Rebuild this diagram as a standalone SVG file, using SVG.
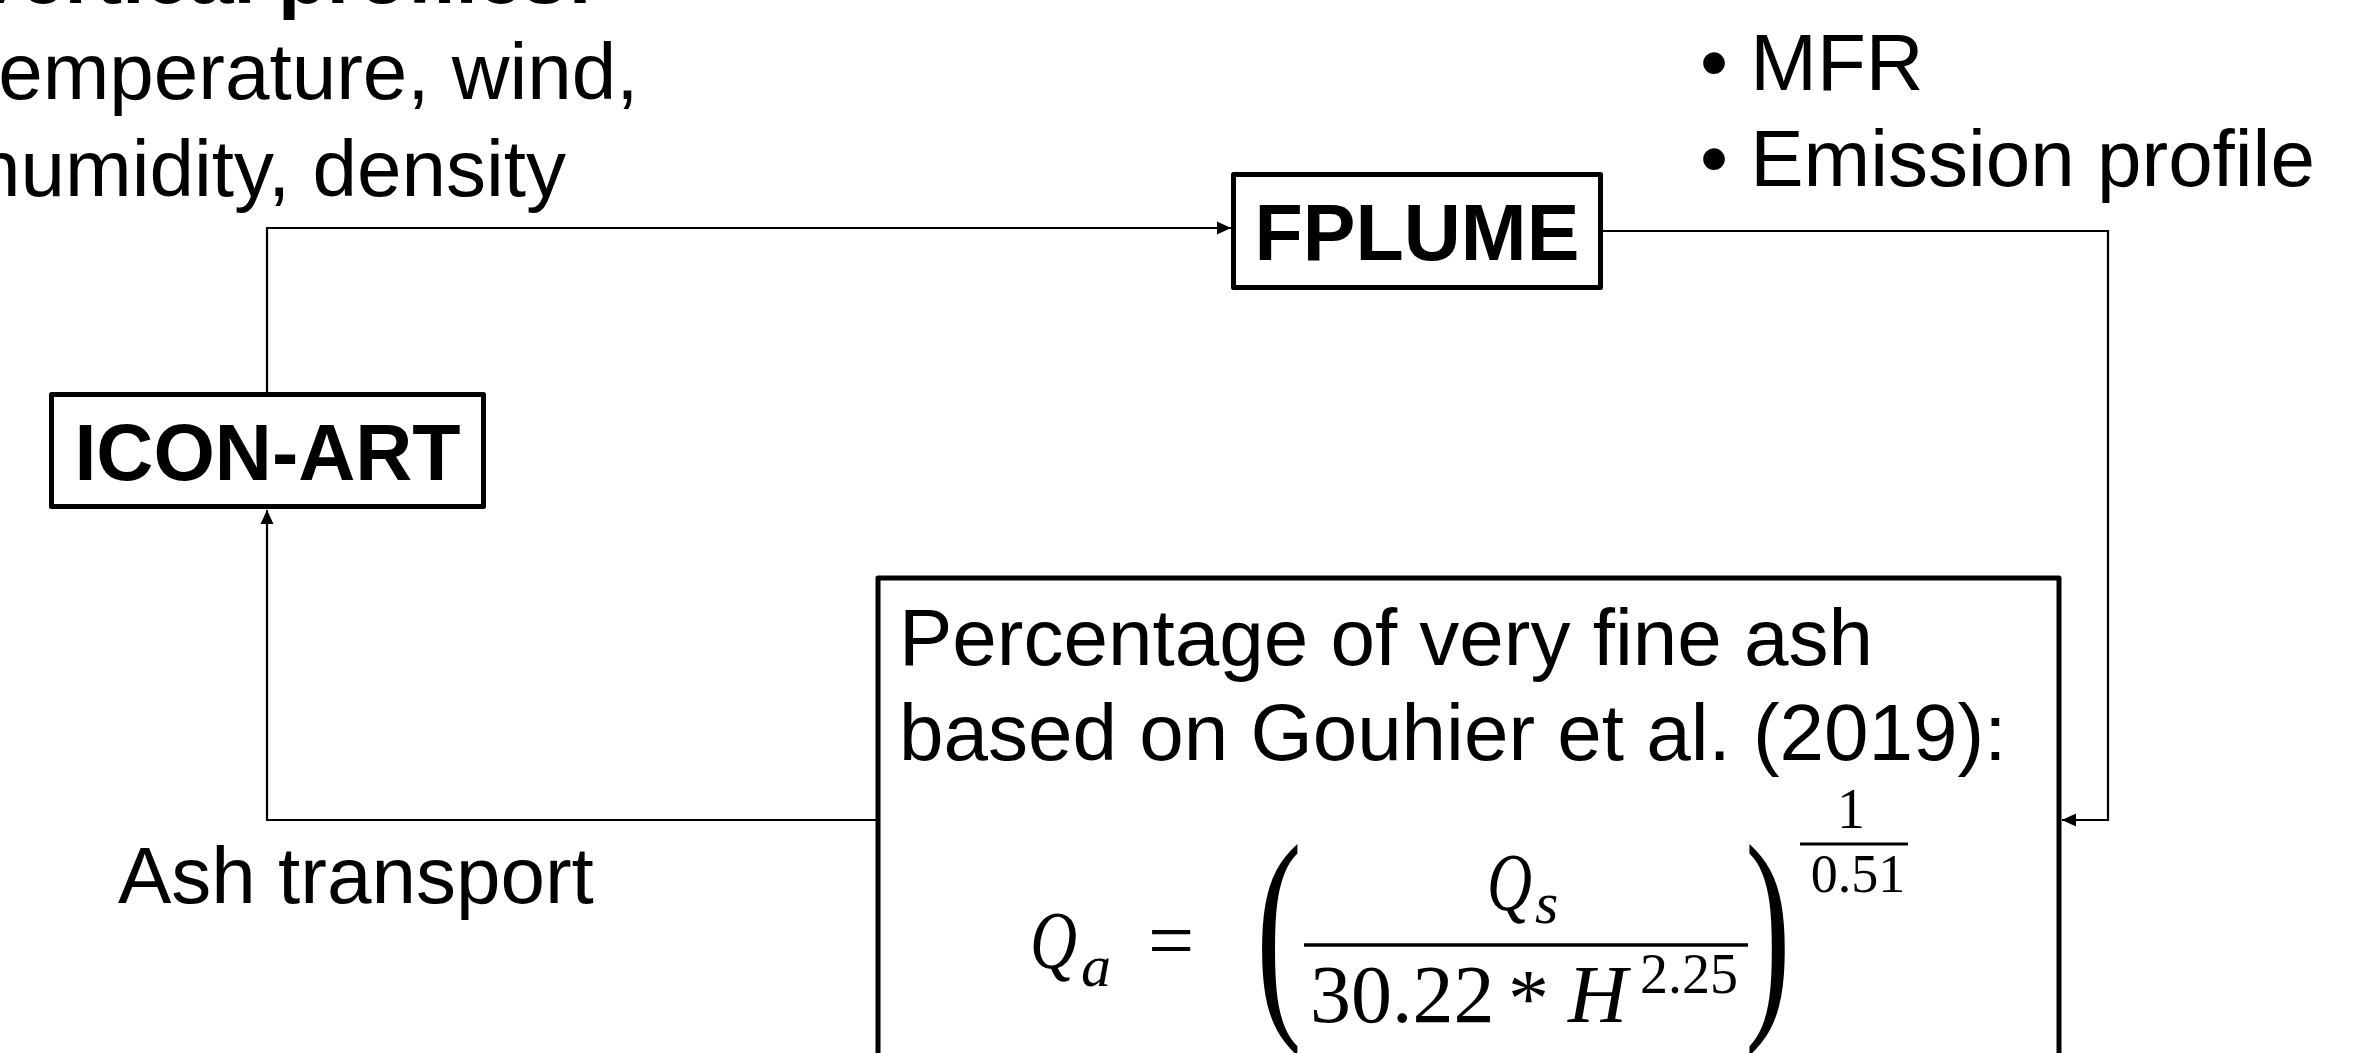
<svg xmlns="http://www.w3.org/2000/svg" width="2369" height="1053" viewBox="0 0 2369 1053">
<style>
.box{fill:#fff;stroke:#000;stroke-width:5;stroke-linejoin:round}
.conn{fill:none;stroke:#000;stroke-width:2.2}
.t{font-family:"Liberation Sans",Arial,sans-serif;font-size:80px;fill:#000}
.b{font-family:"Liberation Sans",Arial,sans-serif;font-size:79px;font-weight:bold;fill:#000}
.m{font-family:"Liberation Serif","Times New Roman",serif;fill:#000}
.i{font-style:italic}
</style>
<defs>
<marker id="arr" markerUnits="userSpaceOnUse" markerWidth="16" markerHeight="16" viewBox="0 0 16 16" refX="15" refY="8" orient="auto">
<path d="M1,1.5 L15,8 L1,14.5 Z" fill="#000"/>
</marker>
</defs>
<rect width="2369" height="1053" fill="#fff"/>
<g id="connectors">
<polyline class="conn" points="267,392 267,228 1231,228" marker-end="url(#arr)"/>
<polyline class="conn" points="1603,231 2108,231 2108,820 2062,820" marker-end="url(#arr)"/>
<polyline class="conn" points="878,820 267,820 267,510" marker-end="url(#arr)"/>
</g>
<g id="icon-art">
<rect class="box" x="51.5" y="394.5" width="432" height="112"/>
<text class="b" x="267.5" y="480" text-anchor="middle">ICON-ART</text>
</g>
<g id="fplume">
<rect class="box" x="1233.5" y="174.5" width="367" height="113"/>
<text class="b" x="1417" y="260" text-anchor="middle">FPLUME</text>
</g>
<g id="fine-ash">
<rect class="box" x="878" y="578" width="1181" height="500"/>
<text class="t" x="899" y="665">Percentage of very fine ash</text>
<text class="t" x="899" y="760">based on Gouhier et al. (2019):</text>
<g id="formula">
<text class="m i" x="1030" y="968" font-size="82"><tspan textLength="47" lengthAdjust="spacingAndGlyphs">Q</tspan><tspan x="1081" dy="18" font-size="60">a</tspan></text>
<text class="m" x="1148" y="968" font-size="82">=</text>
<text class="m" font-size="110" transform="translate(1256,1006) scale(1.25,2.12)">(</text>
<text class="m i" x="1487" y="910" font-size="82"><tspan textLength="45" lengthAdjust="spacingAndGlyphs">Q</tspan><tspan x="1535" dy="13" font-size="60">s</tspan></text>
<line x1="1304" y1="945" x2="1748" y2="945" stroke="#000" stroke-width="3.5"/>
<text class="m" x="1310" y="1022" font-size="82">30.22</text>
<text class="m" x="1508" y="1026" font-size="82">*</text>
<text class="m i" x="1568" y="1022" font-size="82">H</text>
<text class="m" x="1640" y="993" font-size="56">2.25</text>
<text class="m" font-size="110" transform="translate(1745,1006) scale(1.25,2.12)">)</text>
<text class="m" x="1851" y="828" font-size="56" text-anchor="middle">1</text>
<line x1="1800" y1="844" x2="1908" y2="844" stroke="#000" stroke-width="3"/>
<text class="m" x="1858" y="892" font-size="54" text-anchor="middle">0.51</text>
</g>
</g>
<g id="labels">
<text class="t" x="-29" y="3" font-weight="bold">Vertical profiles:</text>
<text class="t" x="-24" y="99">temperature, wind,</text>
<text class="t" x="-24" y="196">humidity, density</text>
<text class="t" x="1700" y="90">• MFR</text>
<text class="t" x="1700" y="186">• Emission profile</text>
<text class="t" x="118" y="903">Ash transport</text>
</g>
</svg>
